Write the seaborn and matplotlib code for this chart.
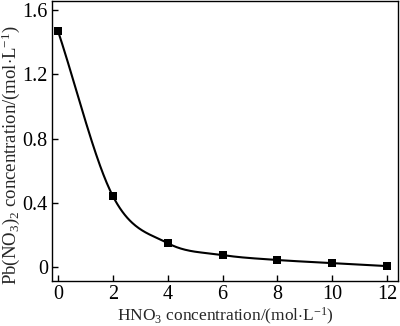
import numpy as np
import pandas as pd
import matplotlib
matplotlib.use("Agg")
import matplotlib.pyplot as plt
import seaborn as sns

hno3 = [0, 2, 4, 6, 8, 10, 12]
pbno3 = [1.47, 0.442, 0.149, 0.075, 0.044, 0.025, 0.006]
xticks = [0, 2, 4, 6, 8, 10, 12]
yticks = [0, 0.4, 0.8, 1.2, 1.6]
ytick_labels = ["0", "0.4", "0.8", "1.2", "1.6"]

sns.set_theme(style="ticks")
plt.rcParams["font.family"] = ["Liberation Serif", "DejaVu Serif"]
plt.rcParams["mathtext.fontset"] = "custom"
plt.rcParams["mathtext.rm"] = "Liberation Serif"
plt.rcParams["mathtext.it"] = "Liberation Serif:italic"


def catmull_rom(x, y, xs):
    """Smooth connecting line (cardinal spline) through the data points."""
    x = np.asarray(x, float); y = np.asarray(y, float)
    n = len(x); h = np.diff(x)
    m = np.zeros(n)
    m[0] = (y[1] - y[0]) / h[0]
    m[-1] = (y[-1] - y[-2]) / h[-1]
    m[1:-1] = (y[2:] - y[:-2]) / (x[2:] - x[:-2])
    idx = np.clip(np.searchsorted(x, xs) - 1, 0, n - 2)
    t = (xs - x[idx]) / h[idx]
    h00 = 2 * t**3 - 3 * t**2 + 1; h10 = t**3 - 2 * t**2 + t
    h01 = -2 * t**3 + 3 * t**2; h11 = t**3 - t**2
    return h00 * y[idx] + h10 * h[idx] * m[idx] + h01 * y[idx + 1] + h11 * h[idx] * m[idx + 1]

xs = np.linspace(hno3[0], hno3[-1], 400)
curve = pd.DataFrame({"x": xs, "y": catmull_rom(hno3, pbno3, xs)})
pts = pd.DataFrame({"x": hno3, "y": pbno3})

fig = plt.figure(figsize=(4.0, 3.26), dpi=100)
ax = fig.add_axes([0.13, 0.138, 0.865, 0.86])
sns.lineplot(data=curve, x="x", y="y", ax=ax, color="black", linewidth=1.5)
sns.scatterplot(data=pts, x="x", y="y", ax=ax, color="black", marker="s", s=28,
                edgecolor="black", linewidth=0, zorder=5)

ax.set_xlim(-0.22, 12.4)
ax.set_ylim(-0.087, 1.66)
ax.set_xticks(xticks)
ax.set_yticks(yticks)
ax.set_yticklabels(ytick_labels)
ax.tick_params(direction="in", length=4, width=1, labelsize=14.5, color="black",
               labelcolor="black", pad=3)
for s in ax.spines.values():
    s.set_linewidth(1.0)
    s.set_color("black")
ax.set_xlabel(r"HNO$_3$ concentration/(mol$\cdot$L$^{-1}$)", fontsize=12.5)
ax.set_ylabel(r"Pb(NO$_3$)$_2$ concentration/(mol$\cdot$L$^{-1}$)", fontsize=13.5)
ax.xaxis.set_label_coords(0.5, -0.088)
ax.yaxis.set_label_coords(-0.088, 0.45)
fig.savefig("out.png", dpi=100)
